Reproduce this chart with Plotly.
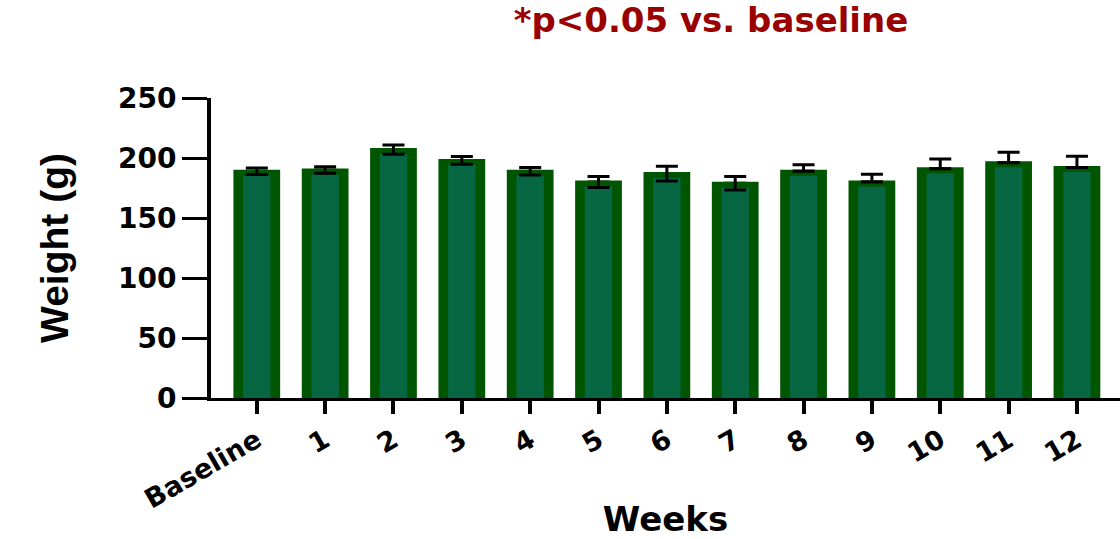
import plotly.graph_objects as go

# Body weight per week (mean ± SEM)
weeks = ["Baseline", "1", "2", "3", "4", "5", "6", "7", "8", "9", "10", "11", "12"]
weight_mean = [189, 190, 207, 198, 189, 180, 187, 179, 189, 180, 191, 196, 192]
weight_sem = [2.7, 2.8, 3.8, 3.2, 3.1, 4.6, 6.2, 5.6, 5.3, 6.5, 8.2, 8.8, 9.4]
# weeks where only the upper error bar is shown
upper_only = [False] * 8 + [True] * 5

y_ticks = [0, 50, 100, 150, 200, 250]

OUTER = "#005500"
INNER = "#076743"
FONT = "DejaVu Sans"
Y_MAX = 250
TOP_BORDER = 3.7  # dark band at the top of each bar, in axis units

sem_one = [s if u else None for s, u in zip(weight_sem, upper_only)]
sem_two = [None if u else s for s, u in zip(weight_sem, upper_only)]
zeros = [0 if u else None for u in upper_only]

fig = go.Figure()

# upper-only error bars, drawn underneath the bars
fig.add_trace(go.Bar(
    x=weeks, y=weight_mean, width=0.4,
    marker=dict(color="rgba(0,0,0,0)", line=dict(width=0)),
    error_y=dict(type="data", array=sem_one, arrayminus=zeros, visible=True,
                 color="black", thickness=3, width=11),
    hoverinfo="skip", showlegend=False,
))
# dark outer bars
fig.add_trace(go.Bar(
    x=weeks, y=weight_mean, width=0.64,
    marker=dict(color=OUTER, line=dict(color=OUTER, width=3)),
    showlegend=False,
))
# lighter inner fill, sitting just below the dark top band
fig.add_trace(go.Bar(
    x=weeks, y=weight_mean, width=0.40, yaxis="y2",
    marker=dict(color=INNER, line=dict(width=0)),
    hoverinfo="skip", showlegend=False,
))
# two-sided error bars on top of everything
fig.add_trace(go.Bar(
    x=weeks, y=weight_mean, width=0.4, yaxis="y3",
    marker=dict(color="rgba(0,0,0,0)", line=dict(width=0)),
    error_y=dict(type="data", array=sem_two, visible=True,
                 color="black", thickness=3, width=11),
    hoverinfo="skip", showlegend=False,
))

fig.update_layout(
    width=1120, height=539,
    margin=dict(l=211, r=0, t=98, b=141),
    paper_bgcolor="white", plot_bgcolor="white",
    barmode="overlay",
    title=dict(
        text="<b>*p<0.05 vs. baseline</b>",
        font=dict(family=FONT, size=34, color="#990000"),
        x=0.55, xref="paper", xanchor="center",
        y=0.962, yref="container", yanchor="middle",
    ),
    xaxis=dict(
        range=[-0.67, 12.63], automargin=False,
        showline=True, linecolor="black", linewidth=3,
        ticks="outside", ticklen=13, tickwidth=4, tickcolor="black",
        tickangle=-30,
        tickfont=dict(family=FONT, size=27, color="black", weight="bold"),
        title=dict(text="<b>Weeks</b>", font=dict(family=FONT, size=34, color="black"),
                   standoff=16),
        showgrid=False, zeroline=False,
    ),
    yaxis=dict(
        range=[0, Y_MAX], tickvals=y_ticks, automargin=False,
        showline=True, linecolor="black", linewidth=4,
        ticks="outside", ticklen=25, tickwidth=3, tickcolor="black",
        tickfont=dict(family=FONT, size=28, color="black", weight="bold"),
        title=dict(text="<b>Weight (g)</b>",
                   font=dict(family="Liberation Sans", size=39, color="black"),
                   standoff=38),
        showgrid=False, zeroline=False,
    ),
    yaxis2=dict(range=[TOP_BORDER, Y_MAX + TOP_BORDER], overlaying="y", visible=False),
    yaxis3=dict(range=[0, Y_MAX], overlaying="y", visible=False),
)

fig.write_html("out.html")
